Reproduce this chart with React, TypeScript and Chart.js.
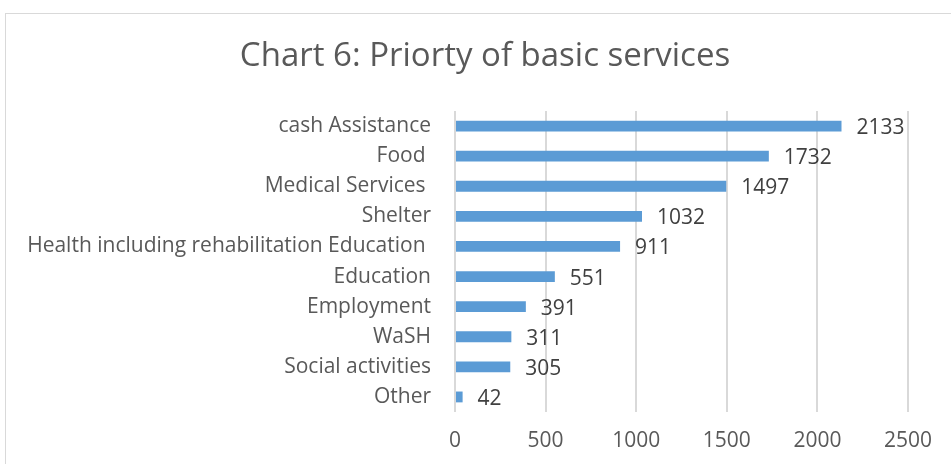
import React, { useEffect, useRef } from "react";
import { Chart, registerables } from "chart.js";

Chart.register(...registerables);

const titleText = "Chart 6: Priorty of basic services";
const categories = [
  "cash Assistance",
  "Food ",
  "Medical Services ",
  "Shelter",
  "Health including rehabilitation Education ",
  "Education",
  "Employment",
  "WaSH",
  "Social activities",
  "Other",
];
const values = [2133, 1732, 1497, 1032, 911, 551, 391, 311, 305, 42];
const xMin = 0;
const xMax = 2500;
const xStep = 500;

const FONT = "'Open Sans', 'Liberation Sans', sans-serif";

export default function App() {
  const ref = useRef<HTMLCanvasElement | null>(null);
  useEffect(() => {
    document.body.style.margin = "0";
    const canvas = ref.current!;
    const framePlugin = {
      id: "frame",
      beforeDraw(chart: any) {
        const ctx = chart.ctx;
        ctx.save();
        ctx.fillStyle = "#ffffff";
        ctx.fillRect(0, 0, chart.width, chart.height);
        ctx.strokeStyle = "#d9d9d9";
        ctx.lineWidth = 1;
        ctx.strokeRect(5.5, 13.5, chart.width + 20, chart.height + 20);
        ctx.fillStyle = "#595959";
        ctx.font = `33px ${FONT}`;
        ctx.textAlign = "center";
        ctx.textBaseline = "middle";
        ctx.fillText(titleText, 485, 57);
        ctx.restore();
      },
      afterDatasetsDraw(chart: any) {
        const ctx = chart.ctx;
        const meta = chart.getDatasetMeta(0);
        ctx.save();
        ctx.fillStyle = "#404040";
        ctx.font = `21px ${FONT}`;
        ctx.textAlign = "left";
        ctx.textBaseline = "middle";
        meta.data.forEach((el: any, i: number) => {
          ctx.fillText(String(values[i]), el.x + 15, el.y + 2);
        });
        ctx.restore();
      },
    };
    const chart = new Chart(canvas, {
      type: "bar",
      data: {
        labels: categories,
        datasets: [
          {
            data: values,
            backgroundColor: "#5B9BD5",
            borderWidth: 0,
            barPercentage: 0.36,
            categoryPercentage: 1,
          },
        ],
      },
      options: {
        indexAxis: "y",
        animation: false,
        responsive: false,
        maintainAspectRatio: false,
        layout: { padding: { top: 111, right: 43, left: 0, bottom: 0 } },
        plugins: {
          legend: { display: false },
          tooltip: { enabled: false },
          title: { display: false },
        },
        scales: {
          x: {
            min: xMin,
            max: xMax,
            ticks: {
              stepSize: xStep,
              color: "#595959",
              font: { family: FONT, size: 21 },
              padding: 16,
              callback: (v: any) => String(v),
            },
            grid: { color: "#d9d9d9", lineWidth: 2, drawTicks: false },
            border: { display: false },
            afterFit(scale: any) {
              scale.height = 52;
            },
          },
          y: {
            ticks: {
              color: "#595959",
              font: { family: FONT, size: 21 },
              padding: 24,
            },
            grid: { display: false, drawTicks: false },
            border: { display: false },
            afterFit(scale: any) {
              scale.width = 455;
            },
          },
        },
      },
      plugins: [framePlugin],
    });
    return () => chart.destroy();
  }, []);
  return <canvas ref={ref} width={951} height={464} style={{ display: "block" }} />;
}
